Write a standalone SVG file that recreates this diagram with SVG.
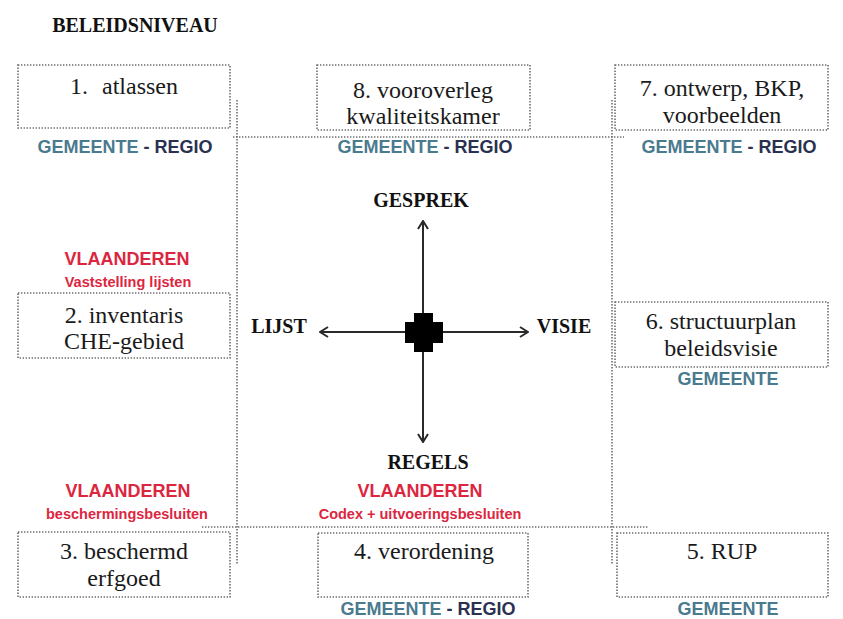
<svg xmlns="http://www.w3.org/2000/svg" width="843" height="619" viewBox="0 0 843 619">
<style>
.box{fill:#fff;stroke:#6e6e6e;stroke-width:1.6;stroke-dasharray:1.4 1.6}
.grid{fill:none;stroke:#6e6e6e;stroke-width:1.6;stroke-dasharray:1.4 1.6}
.t{font-family:"Liberation Serif",serif;font-size:24px;fill:#1a1a1a;text-anchor:middle}
.h{font-family:"Liberation Serif",serif;font-size:20px;font-weight:bold;fill:#111;text-anchor:middle}
.g{font-family:"Liberation Sans",Arial,sans-serif;font-size:18px;font-weight:bold;text-anchor:middle}
.gem{fill:#4a7a8e}
.reg{fill:#2a3150}
.vl{font-family:"Liberation Sans",Arial,sans-serif;font-size:18px;font-weight:bold;fill:#dc2640;text-anchor:middle}
.vs{font-family:"Liberation Sans",Arial,sans-serif;font-size:14.5px;font-weight:bold;fill:#dc2640;text-anchor:middle}
.ax{stroke:#2a2a2a;stroke-width:2;fill:none}
</style>
<defs>
<marker id="ah" viewBox="0 0 10 12" refX="9" refY="6" markerWidth="10" markerHeight="12" markerUnits="userSpaceOnUse" orient="auto">
<path d="M1,1 L9,6 L1,11" fill="none" stroke="#2a2a2a" stroke-width="2"/>
</marker>
</defs>
<rect width="843" height="619" fill="#fff"/>
<text class="h" x="135" y="32">BELEIDSNIVEAU</text>
<g id="grid">
<line class="grid" x1="237" y1="100" x2="237" y2="565"/>
<line class="grid" x1="612" y1="100" x2="612" y2="565"/>
<line class="grid" x1="233" y1="137" x2="624" y2="137"/>
<line class="grid" x1="202" y1="527" x2="648" y2="527"/>
</g>
<g id="connectors">
<line class="ax" x1="423" y1="332" x2="423" y2="221" marker-end="url(#ah)"/>
<line class="ax" x1="423" y1="332" x2="423" y2="442" marker-end="url(#ah)"/>
<line class="ax" x1="423" y1="332" x2="320" y2="332" marker-end="url(#ah)"/>
<line class="ax" x1="423" y1="332" x2="528" y2="332" marker-end="url(#ah)"/>
</g>
<g id="center">
<rect x="414" y="313" width="19" height="39" fill="#000"/>
<rect x="405" y="322" width="38" height="21" fill="#000"/>
</g>
<g id="axis-labels">
<text class="h" x="421" y="207">GESPREK</text>
<text class="h" x="279" y="333">LIJST</text>
<text class="h" x="564" y="333">VISIE</text>
<text class="h" x="428" y="469">REGELS</text>
</g>
<g id="n1">
<rect class="box" x="18" y="65" width="212" height="63"/>
<text class="t" x="70" y="94" style="text-anchor:start">1.</text>
<text class="t" x="102" y="94" style="text-anchor:start">atlassen</text>
<text class="g" x="125" y="153"><tspan class="gem">GEMEENTE</tspan><tspan class="reg"> - REGIO</tspan></text>
</g>
<g id="n8">
<rect class="box" x="317" y="65" width="213" height="65"/>
<text class="t" x="423" y="98">8. vooroverleg</text>
<text class="t" x="423" y="124">kwaliteitskamer</text>
<text class="g" x="425" y="153"><tspan class="gem">GEMEENTE</tspan><tspan class="reg"> - REGIO</tspan></text>
</g>
<g id="n7">
<rect class="box" x="615" y="65" width="213" height="65"/>
<text class="t" x="722" y="96">7. ontwerp, BKP,</text>
<text class="t" x="722" y="123">voorbeelden</text>
<text class="g" x="729" y="153"><tspan class="gem">GEMEENTE</tspan><tspan class="reg"> - REGIO</tspan></text>
</g>
<g id="n2">
<text class="vl" x="127" y="265">VLAANDEREN</text>
<text class="vs" x="128" y="287">Vaststelling lijsten</text>
<rect class="box" x="18" y="293" width="212" height="65"/>
<text class="t" x="124" y="323">2. inventaris</text>
<text class="t" x="124" y="349">CHE-gebied</text>
</g>
<g id="n6">
<rect class="box" x="615" y="302" width="213" height="65"/>
<text class="t" x="721" y="329">6. structuurplan</text>
<text class="t" x="721" y="356">beleidsvisie</text>
<text class="g gem" x="728" y="385">GEMEENTE</text>
</g>
<g id="n3">
<text class="vl" x="128" y="497">VLAANDEREN</text>
<text class="vs" x="127" y="519">beschermingsbesluiten</text>
<rect class="box" x="18" y="532" width="212" height="65"/>
<text class="t" x="124" y="559">3. beschermd</text>
<text class="t" x="124" y="586">erfgoed</text>
</g>
<g id="n4">
<text class="vl" x="420" y="497">VLAANDEREN</text>
<text class="vs" x="420" y="519">Codex + uitvoeringsbesluiten</text>
<rect class="box" x="318" y="533" width="210" height="64"/>
<text class="t" x="424" y="559">4. verordening</text>
<text class="g" x="428" y="615"><tspan class="gem">GEMEENTE</tspan><tspan class="reg"> - REGIO</tspan></text>
</g>
<g id="n5">
<rect class="box" x="617" y="533" width="211" height="64"/>
<text class="t" x="722" y="559">5. RUP</text>
<text class="g gem" x="728" y="615">GEMEENTE</text>
</g>
</svg>
